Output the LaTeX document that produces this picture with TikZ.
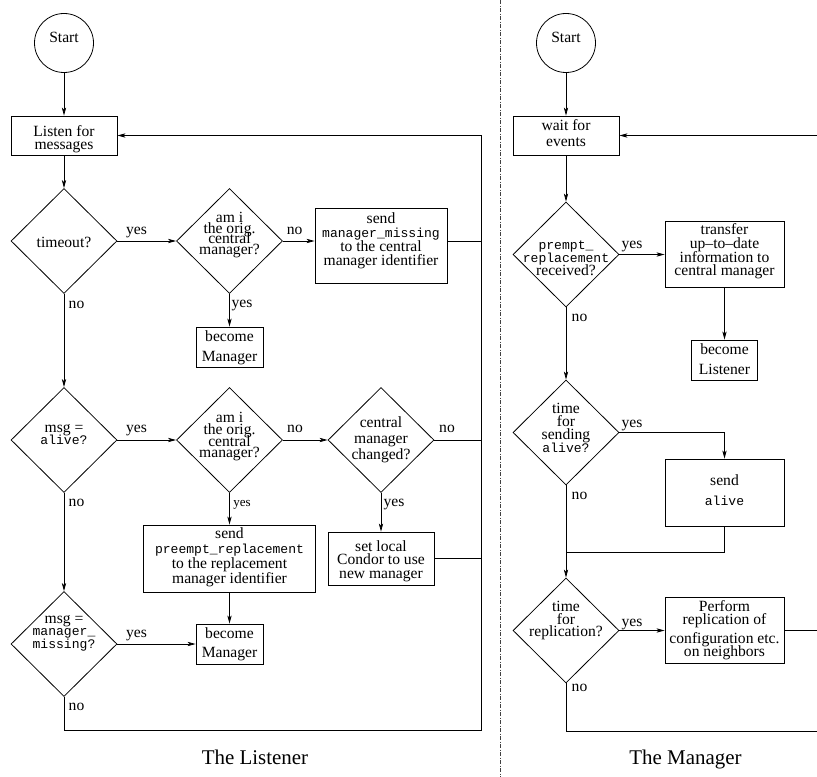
\documentclass[tikz,border=0pt]{standalone}
\usepackage{fontspec}
\setmainfont{Liberation Serif}
\setmonofont{Liberation Mono}
\usetikzlibrary{shapes.geometric,arrows.meta}

% typewriter words inside the flowchart texts
\newcommand\mono[1]{{\ttfamily\fontsize{9.8pt}{10pt}\selectfont #1}}

\begin{document}
\begin{tikzpicture}[x=0.75pt, y=-0.75pt, line width=0.6pt,
  arr/.style={-{Stealth[length=6pt,width=3.2pt,inset=1.6pt]}},
  dia/.style={draw, diamond, minimum width=79.5pt, minimum height=78.75pt, inner sep=0pt},
  box/.style 2 args={draw, rectangle, minimum width=#1*0.75pt, minimum height=#2*0.75pt, inner sep=0pt},
  startc/.style={draw, circle, minimum size=44.25pt, inner sep=0pt},
  txt/.style={align=center, inner sep=0pt,
    font={\fontsize{11.7pt}{#1}\selectfont\lineskiplimit=-30pt\lineskip=0pt\relax}},
  txt/.default=14pt,
  lbl/.style={anchor=base, inner sep=0pt, font=\fontsize{11.7pt}{14pt}\selectfont},
  smalllbl/.style={anchor=base, inner sep=0pt, font=\fontsize{9.75pt}{12pt}\selectfont},
  title/.style={anchor=base, inner sep=0pt, font=\fontsize{15.7pt}{18pt}\selectfont},
  divider/.style={line width=0.5pt, black!75, dash pattern=on 3pt off 1.2pt on 0.6pt off 1.2pt}]

\useasboundingbox (0,0) rectangle (817,777);

% ---------------- The Listener ----------------
\node[startc] (startL) at (64,43) {};
\node[txt] (startLt) at (64,37.5) {Start};

\node[box={106}{39}] (listen) at (64,135.5) {};
\node[txt=9.4pt] (listent) at (64,139) {Listen for\\messages};

\node[dia] (timeout) at (64,241) {};
\node[txt] (timeoutt) at (64,242.5) {timeout?};

\node[dia] (amiA) at (229.5,241) {};
\node[txt=8.2pt] (amiAt) at (229.5,235) {am i\\the orig.\\central\\manager?};

\node[box={132}{75}] (sendMM) at (381,245.5) {};
\node[txt=10.5pt] (sendMMt) at (381,240.5) {send\\\mono{manager\_missing}\\to the central\\manager identifier};

\node[box={67}{40}] (becomeA) at (229.5,347) {};
\node[txt=15pt] (becomeAt) at (229.5,347.5) {become\\Manager};

\node[dia] (aliveD) at (64,440) {};
\node[txt=9.5pt] (aliveDt) at (64,434.7) {msg =\\\mono{alive?}};

\node[dia] (amiB) at (229.5,440) {};
\node[txt=8.9pt] (amiBt) at (229.5,436.7) {am i\\the orig.\\central\\manager?};

\node[dia] (cmChanged) at (381,440) {};
\node[txt=12pt] (cmChangedt) at (381,440.2) {central\\manager\\changed?};

\node[box={172}{67}] (sendPR) at (229.5,558.5) {};
\node[txt=11.25pt] (sendPRt) at (229.5,557) {send\\\mono{preempt\_replacement}\\to the replacement\\manager identifier};

\node[box={106}{53}] (setLocal) at (381,558.5) {};
\node[txt=10pt] (setLocalt) at (381,561) {set local\\Condor to use\\new manager};

\node[dia] (mmD) at (64,644) {};
\node[txt=9.6pt] (mmDt) at (64,633.3) {msg =\\\mono{manager\_}\\\mono{missing?}};

\node[box={67}{40}] (becomeB) at (229.5,644) {};
\node[txt=14.25pt] (becomeBt) at (229.5,644) {become\\Manager};

\coordinate (railTop) at (481,135.5);
\coordinate (railBot) at (481,730);

\draw[arr] (startL) -- (listen);
\draw[arr] (listen) -- (timeout);
\draw[arr] (timeout) -- (amiA);
\draw[arr] (amiA.east) -- (amiA.east -| sendMM.west);
\draw[arr] (amiA) -- (becomeA);
\draw (amiA.east -| sendMM.east) -- (amiA.east -| railTop);
\draw[arr] (timeout) -- (aliveD);
\draw[arr] (aliveD) -- (amiB);
\draw[arr] (amiB) -- (cmChanged);
\draw (cmChanged.east) -- (cmChanged.east -| railTop);
\draw[arr] (amiB) -- (sendPR);
\draw[arr] (cmChanged) -- (setLocal);
\draw (setLocal.east) -- (setLocal.east -| railTop);
\draw[arr] (sendPR) -- (becomeB);
\draw[arr] (aliveD) -- (mmD);
\draw[arr] (mmD) -- (becomeB);
\draw[arr] (mmD.south) |- (railBot) -- (railTop) -- (listen.east);

\node[lbl] (l1) at (136.5,235) {yes};
\node[lbl] (l2) at (294.7,235) {no};
\node[lbl] (l3) at (76.5,308) {no};
\node[lbl] (l4) at (242,307) {yes};
\node[lbl] (l5) at (136.5,432.7) {yes};
\node[lbl] (l6) at (295,432.7) {no};
\node[lbl] (l7) at (447,432.7) {no};
\node[lbl] (l8) at (76.5,506) {no};
\node[smalllbl] (l9) at (242,506) {yes};
\node[lbl] (l10) at (394,506) {yes};
\node[lbl] (l11) at (136.5,637.5) {yes};
\node[lbl] (l12) at (76.5,710.5) {no};

\node[title] (titleL) at (255,764) {The Listener};

% ---------------- divider ----------------
\coordinate (divTop) at (500,0);
\coordinate (divBot) at (500,777);
\draw[divider] (divTop) -- (divBot);

% ---------------- The Manager ----------------
\node[startc] (startR) at (566,43) {};
\node[txt] (startRt) at (566,37.5) {Start};

\node[box={106}{39}] (wait) at (566,135.5) {};
\node[txt=12pt] (waitt) at (566,133) {wait for\\events};

\node[dia] (prD) at (566,254.5) {};
\node[txt=9.75pt] (prDt) at (566,258) {\mono{prempt\_}\\\mono{replacement}\\received?};

\node[box={119}{66}] (transfer) at (724.5,254.5) {};
\node[txt=10.3pt] (transfert) at (724.5,251.5) {transfer\\up--to--date\\information to\\central manager};

\node[box={66}{40}] (becomeL) at (724.5,360) {};
\node[txt=15pt] (becomeLt) at (724.5,359.5) {become\\Listener};

\node[dia] (sendingD) at (566,432.5) {};
\node[txt=9.75pt] (sendingDt) at (566,428) {time\\for\\sending\\\mono{alive?}};

\node[box={119}{67}] (sendAlive) at (724.5,492.5) {};
\node[txt=15pt] (sendAlivet) at (724.5,490.5) {send\\\mono{alive}};

\node[dia] (replD) at (566,630.5) {};
\node[txt=9.6pt] (replDt) at (566,620.5) {time\\for\\replication?};

\node[box={119}{66}] (perform) at (724.5,630.5) {};
\node[txt=9.5pt] (performt) at (724.5,630.5) {Perform\\replication of\\[5pt]configuration etc.\\on neighbors};

\coordinate (edgeTop) at (817,135.5);
\coordinate (edgeMid) at (817,630.5);
\coordinate (edgeBot) at (817,731);
\coordinate (joinR) at (566,552);

\draw[arr] (startR) -- (wait);
\draw[arr] (wait) -- (prD);
\draw[arr] (prD) -- (transfer);
\draw[arr] (transfer) -- (becomeL);
\draw[arr] (prD) -- (sendingD);
\draw[arr] (sendingD.east) -| (sendAlive.north);
\draw[arr] (sendingD) -- (replD);
\draw (sendAlive.south) |- (joinR);
\draw[arr] (replD) -- (perform);
\draw (perform.east) -- (edgeMid);
\draw (replD.south) |- (edgeBot);
\draw[arr] (edgeTop) -- (wait.east);

\node[lbl] (r1) at (632,248) {yes};
\node[lbl] (r2) at (579.5,321) {no};
\node[lbl] (r3) at (632,427.5) {yes};
\node[lbl] (r4) at (579.5,499) {no};
\node[lbl] (r5) at (632,626) {yes};
\node[lbl] (r6) at (579.5,691) {no};

\node[title] (titleR) at (685.5,764) {The Manager};
\end{tikzpicture}
\end{document}
